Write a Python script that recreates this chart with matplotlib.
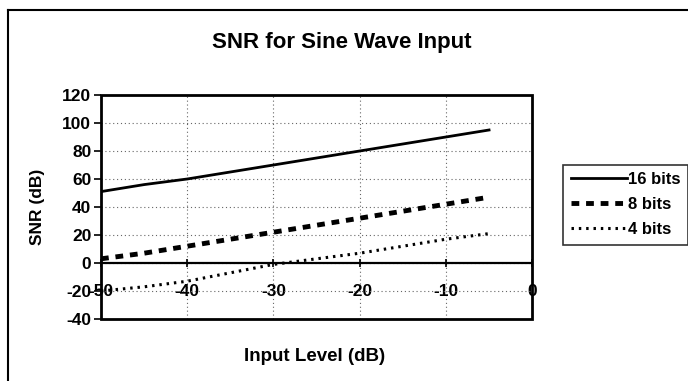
import matplotlib
matplotlib.use("Agg")
import matplotlib.pyplot as plt
from matplotlib.patches import Rectangle
from matplotlib.lines import Line2D

input_level = [-50, -45, -40, -35, -30, -25, -20, -15, -10, -5]
snr_16 = [51, 56, 60, 65, 70, 75, 80, 85, 90, 95]
snr_8 = [3, 7, 12, 17, 22, 27, 32, 37, 42, 47]
snr_4 = [-20, -17, -13, -7, -1, 3, 7, 12, 17, 21]
series_labels = ["16 bits", "8 bits", "4 bits"]
x_ticks = [-50, -40, -30, -20, -10, 0]
y_ticks = [-40, -20, 0, 20, 40, 60, 80, 100, 120]

plt.rcParams['font.family'] = ['Liberation Sans', 'DejaVu Sans']
plt.rcParams['font.weight'] = 'bold'
plt.rcParams['axes.unicode_minus'] = False

fig = plt.figure(figsize=(6.88, 3.81), dpi=100)
ax = fig.add_axes([0.1468, 0.1627, 0.7735 - 0.1468, 0.7507 - 0.1627])

ax.plot(input_level, snr_16, color='black', lw=2.0, linestyle='-', label=series_labels[0])
ax.plot(input_level, snr_8, color='black', lw=3.5, linestyle=(0, (1.6, 1.4)), label=series_labels[1])
ax.plot(input_level, snr_4, color='black', lw=2.2, linestyle=(0, (0.8, 1.6)), label=series_labels[2])

ax.set_xlim(-50, 0)
ax.set_ylim(-40, 120)
ax.set_xticks(x_ticks)
ax.set_yticks(y_ticks)
ax.grid(True, color='#666666', linestyle=(0, (1, 2.5)), lw=0.8)

ax.spines['bottom'].set_position(('data', 0))
ax.spines['bottom'].set_linewidth(1.6)
for s in ['top', 'right', 'left']:
    ax.spines[s].set_visible(False)
ax.add_patch(Rectangle((0, 0), 1, 1, transform=ax.transAxes, fill=False,
                       lw=2.0, edgecolor='black', zorder=5, clip_on=False))
ax.tick_params(axis='x', direction='inout', length=6, width=1.2, pad=12, labelsize=12.5)
ax.tick_params(axis='y', direction='out', length=5, width=1.2, pad=2, labelsize=12.5)
for lab in ax.get_xticklabels() + ax.get_yticklabels():
    lab.set_fontweight('bold')

ax.set_xlabel('Input Level (dB)', fontsize=13.5, fontweight='bold')
ax.xaxis.set_label_coords(0.495, -0.13)
ax.set_ylabel('SNR (dB)', fontsize=12.5, fontweight='bold')
ax.yaxis.set_label_coords(-0.13, 0.5)

fig.text(0.497, 0.888, 'SNR for Sine Wave Input', ha='center', va='center',
         fontsize=16, fontweight='bold')

leg = ax.legend(loc='center left', bbox_to_anchor=(1.072, 0.51), frameon=True,
                fancybox=False, edgecolor='black', fontsize=12, handlelength=3.4,
                handletextpad=0.05, borderpad=0.45, labelspacing=0.6, borderaxespad=0)
leg.get_frame().set_linewidth(1.2)
for t in leg.get_texts():
    t.set_fontweight('bold')

fig.add_artist(Line2D([0.012, 1.0], [0.973, 0.973], color='black', lw=1.5,
                      transform=fig.transFigure))
fig.add_artist(Line2D([0.012, 0.012], [0.0, 0.973], color='black', lw=1.5,
                      transform=fig.transFigure))

fig.savefig('out.png', dpi=100)
